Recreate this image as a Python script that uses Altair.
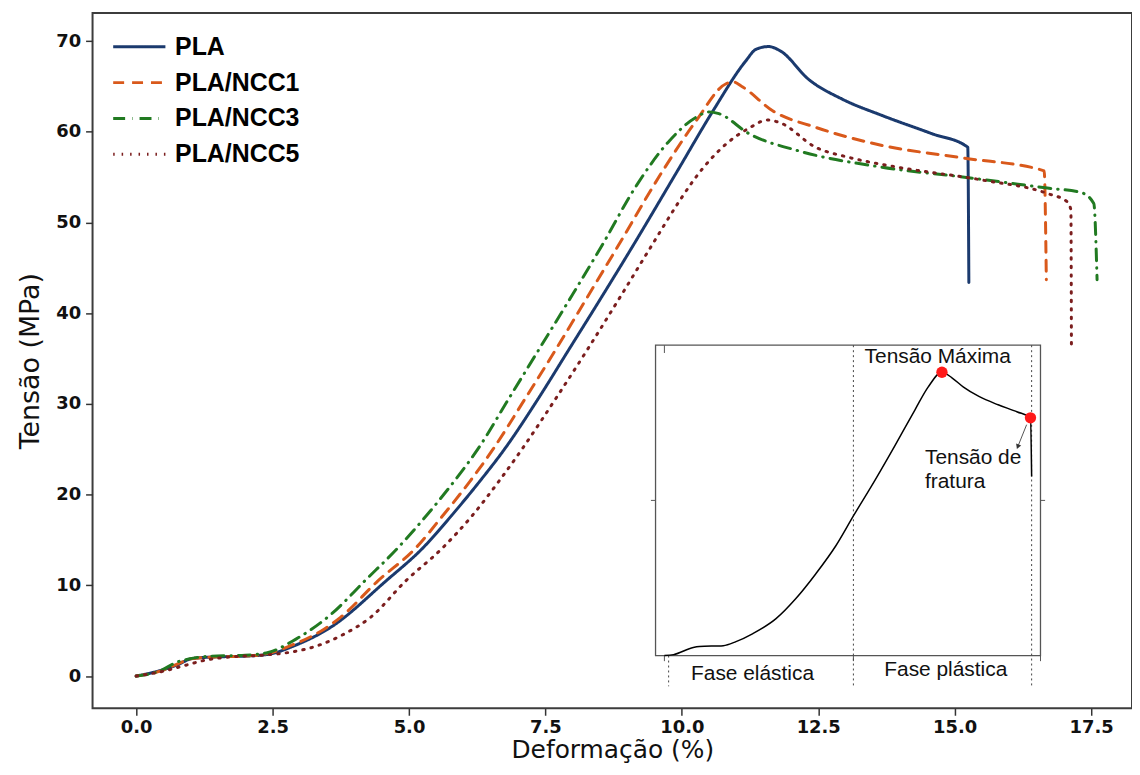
import altair as alt
import pandas as pd

# ---------------- main curves (Deformação %, Tensão MPa) ----------------
SERIES = ["PLA", "PLA/NCC1", "PLA/NCC3", "PLA/NCC5"]
COLORS = ["#1b3a6e", "#d9591b", "#217a21", "#7b1e1e"]
DASHES = [[1, 0], [11, 8], [12, 7, 0.5, 7], [1.5, 7]]

pla_x = [0, 0.47, 0.78, 1.0, 1.39, 2.0, 2.42, 2.92, 3.57, 4.58, 5.25, 5.78, 6.30, 6.76, 7.37,
         7.93, 8.50, 9.06, 9.92, 10.57, 11.17, 11.36, 11.59, 11.81, 12.32, 12.94, 13.67, 14.58,
         15.24, 15.26]
pla_y = [0, 0.66, 1.3, 1.9, 2.1, 2.2, 2.4, 3.4, 5.4, 10.5, 14.1, 17.7, 21.5, 25.1, 30.6,
         36.0, 41.5, 47.0, 55.7, 62.3, 67.8, 69.1, 69.4, 68.9, 65.8, 63.6, 61.8, 59.8,
         58.3, 43.4]

ncc1_x = [0, 0.47, 0.78, 1.0, 1.39, 2.0, 2.42, 2.85, 3.45, 3.75, 4.43, 5.12, 5.62, 6.12, 6.55,
          7.13, 7.69, 8.24, 8.79, 9.65, 10.26, 10.81, 10.94, 11.1, 11.67, 12.45, 13.67, 15.18,
          16.64, 16.68]
ncc1_y = [0, 0.6, 1.4, 1.9, 2.1, 2.2, 2.5, 3.4, 5.2, 6.5, 10.5, 14.1, 17.7, 21.5, 25.1,
          30.6, 36.0, 41.5, 47.0, 55.7, 61.2, 65.3, 65.5, 65.0, 62.3, 60.5, 58.5, 57.1,
          55.7, 43.7]

ncc3_x = [0, 0.45, 0.73, 0.97, 1.39, 2.0, 2.42, 2.92, 3.57, 4.19, 4.79, 5.32, 5.83, 6.27, 6.83,
          7.38, 7.94, 8.52, 9.17, 9.77, 10.26, 10.50, 10.68, 11.23, 12.14, 13.67, 15.18, 16.70,
          17.32, 17.55, 17.61]
ncc3_y = [0, 0.6, 1.5, 1.9, 2.2, 2.3, 2.6, 4.05, 6.8, 10.5, 14.1, 17.7, 21.5, 25.1, 30.6,
          36.0, 41.5, 47.3, 54.1, 59.0, 61.6, 62.2, 62.0, 59.8, 57.9, 56.1, 55.0, 53.8,
          53.3, 52.1, 43.7]

ncc5_x = [0, 0.47, 0.91, 1.3, 1.70, 2.3, 2.79, 3.3, 3.8, 4.3, 4.94, 5.61, 6.16, 6.65, 7.08,
          7.69, 8.27, 8.84, 9.40, 9.97, 10.22, 10.82, 11.23, 11.57, 11.8, 12.45, 13.05, 13.96,
          15.49, 16.70, 17.06, 17.13, 17.14]
ncc5_y = [0, 0.5, 1.2, 1.8, 2.1, 2.3, 2.6, 3.3, 4.6, 6.5, 10.5, 14.1, 17.7, 21.5, 25.1,
          30.6, 36.0, 41.5, 47.0, 52.5, 54.7, 58.7, 60.4, 61.3, 61.0, 58.3, 57.2, 56.1,
          54.7, 53.2, 52.3, 51.4, 36.4]

X_TICKS = [0, 2.5, 5, 7.5, 10, 12.5, 15, 17.5]
Y_TICKS = [0, 10, 20, 30, 40, 50, 60, 70]

# ---------------- inset (schematic, normalised 0-100 units) ----------------
ins_u = [2.3, 4.7, 9.8, 11.4, 17.6, 20.9, 25.3, 31.3, 36.4, 41.6, 46.8, 51.4, 57.1, 62.3,
         67.4, 70.8, 74.4, 77.0, 80.0, 84.0, 89.0, 94.0, 97.4, 97.7]
ins_v = [0, 0.3, 2.6, 2.9, 3.2, 4.5, 7.1, 11.9, 18.3, 26.3, 35.3, 45.0, 56.7, 67.9,
         79.2, 86.5, 91.3, 89.5, 86.5, 83.5, 80.8, 78.5, 76.6, 57.7]
pts_u = [74.4, 97.4]
pts_v = [91.3, 76.6]
phase_u = [3.4, 51.4, 97.7]
phase_top = [0, 100, 100]
phase_bot = [-9.9, -9.9, -9.9]
lab_c = ["Tensão Máxima", "Fase elástica", "Fase plástica"]
lab_c_u = [73.3, 25.2, 75.4]
lab_c_v = [96.2, -5.8, -4.8]
lab_l = ["Tensão de", "fratura"]
lab_l_u = [70.0, 70.0]
lab_l_v = [63.8, 55.8]
arrow_u = [96.4, 94.1]
arrow_v = [74.4, 67.3]

# ---------------- build tables ----------------
rows = []
for name, xs, ys in zip(SERIES, [pla_x, ncc1_x, ncc3_x, ncc5_x], [pla_y, ncc1_y, ncc3_y, ncc5_y]):
    for i, (a, b) in enumerate(zip(xs, ys)):
        rows.append({"serie": name, "deform": a, "tensao": b, "ord": i})
main_df = pd.DataFrame(rows)

x_main = alt.Scale(domain=[-0.8, 18.25], nice=False, zero=False)
y_main = alt.Scale(domain=[-3.55, 73.1], nice=False, zero=False)

# legend symbol: a horizontal stroke 1.5x longer than the symbol's nominal box
leg = alt.Legend(title=None, orient="none", legendX=28, legendY=15, symbolType="M-1.5,0H1.5",
                 symbolSize=1225, symbolStrokeWidth=3, symbolFillColor="transparent",
                 labelFont="Liberation Sans",
                 labelFontWeight="bold", labelFontSize=25, labelColor="black", labelOffset=17,
                 rowPadding=4, padding=0, labelLimit=300)

main = alt.Chart(main_df).mark_line(strokeWidth=3, strokeCap="round", interpolate="monotone").encode(
    x=alt.X("deform:Q", scale=x_main, title="Deformação (%)",
            axis=alt.Axis(values=X_TICKS, format=".1f", titleFontSize=25, titlePadding=1,
                          labelPadding=3, labelFlush=False, labelOverlap=False)),
    y=alt.Y("tensao:Q", scale=y_main, title="Tensão (MPa)",
            axis=alt.Axis(values=Y_TICKS, format="d", titleFontSize=27, titlePadding=11,
                          labelFlush=False, labelOverlap=False)),
    color=alt.Color("serie:N", scale=alt.Scale(domain=SERIES, range=COLORS), legend=leg),
    strokeDash=alt.StrokeDash("serie:N", scale=alt.Scale(domain=SERIES, range=DASHES), legend=leg),
    order="ord:Q",
)

ix = alt.Scale(domain=[0, 100], range=[566, 953], nice=False, zero=False)
iy = alt.Scale(domain=[0, 100], range=[646, 334], nice=False, zero=False)


def IX(f):
    return alt.X(f, type="quantitative", scale=ix, axis=None)


def IY(f):
    return alt.Y(f, type="quantitative", scale=iy, axis=None)


frame_df = pd.DataFrame({"u0": [0], "u1": [100], "v0": [0], "v1": [100]})
frame = alt.Chart(frame_df).mark_rect(fill="white", stroke="#555", strokeWidth=1.3).encode(
    x=IX("u0"), x2="u1", y=IY("v0"), y2="v1")

ticks_df = pd.DataFrame({"u0": [-1.2, 100, 2.3, 2.3, 51.4, 100],
                         "u1": [0, 101.2, 2.3, 2.3, 51.4, 100],
                         "v0": [50, 50, 100, 0, 0, 0],
                         "v1": [50, 50, 97.5, -1.8, -1.8, -1.8]})
ticks = alt.Chart(ticks_df).mark_rule(color="#555", strokeWidth=1).encode(
    x=IX("u0"), x2="u1", y=IY("v0"), y2="v1")

phase_df = pd.DataFrame({"u": phase_u, "v0": phase_top, "v1": phase_bot})
phases = alt.Chart(phase_df).mark_rule(color="#444", strokeWidth=1, strokeDash=[2, 3]).encode(
    x=IX("u"), y=IY("v0"), y2="v1")

curve_df = pd.DataFrame({"u": ins_u, "v": ins_v, "o": list(range(len(ins_u)))})
curve = alt.Chart(curve_df).mark_line(color="black", strokeWidth=1.5, interpolate="monotone").encode(
    x=IX("u"), y=IY("v"), order="o:Q")

pts_df = pd.DataFrame({"u": pts_u, "v": pts_v})
pts = alt.Chart(pts_df).mark_circle(color="#ff1a1a", size=130, opacity=1).encode(x=IX("u"), y=IY("v"))

arr_df = pd.DataFrame({"u0": [arrow_u[0]], "u1": [arrow_u[1]], "v0": [arrow_v[0]], "v1": [arrow_v[1]]})
arrow = alt.Chart(arr_df).mark_rule(color="#555", strokeWidth=1).encode(
    x=IX("u0"), x2="u1", y=IY("v0"), y2="v1")
head = alt.Chart(arr_df).mark_point(shape="triangle-down", filled=True, size=30, angle=22,
                                     color="#333", opacity=1).encode(x=IX("u1"), y=IY("v1"))

labc_df = pd.DataFrame({"t": lab_c, "u": lab_c_u, "v": lab_c_v})
labc = alt.Chart(labc_df).mark_text(font="Liberation Sans", fontSize=21, color="#111",
                                    align="center", baseline="middle").encode(
    x=IX("u"), y=IY("v"), text="t:N")
labl_df = pd.DataFrame({"t": lab_l, "u": lab_l_u, "v": lab_l_v})
labl = alt.Chart(labl_df).mark_text(font="Liberation Sans", fontSize=21, color="#111",
                                    align="left", baseline="middle").encode(
    x=IX("u"), y=IY("v"), text="t:N")

inset = alt.layer(frame, ticks, phases, curve, arrow, head, pts, labc, labl)

chart = alt.layer(main, inset).resolve_scale(x="independent", y="independent").properties(
    width=1045, height=699,
    padding={"left": 85, "top": 3, "right": 0, "bottom": 57},
    autosize=alt.AutoSizeParams(type="none"),
).configure_view(stroke="#3c3c3c", strokeWidth=2).configure_axis(
    domain=False, grid=False, tickColor="#333", tickWidth=1.5, tickSize=7,
    labelFont="DejaVu Sans", labelFontWeight="bold", labelFontSize=18, labelColor="#111",
    labelPadding=5, titleFont="DejaVu Sans", titleFontWeight="normal", titleColor="#111",
)

chart.save("out.html", embed_options={"renderer": "svg", "actions": False})
